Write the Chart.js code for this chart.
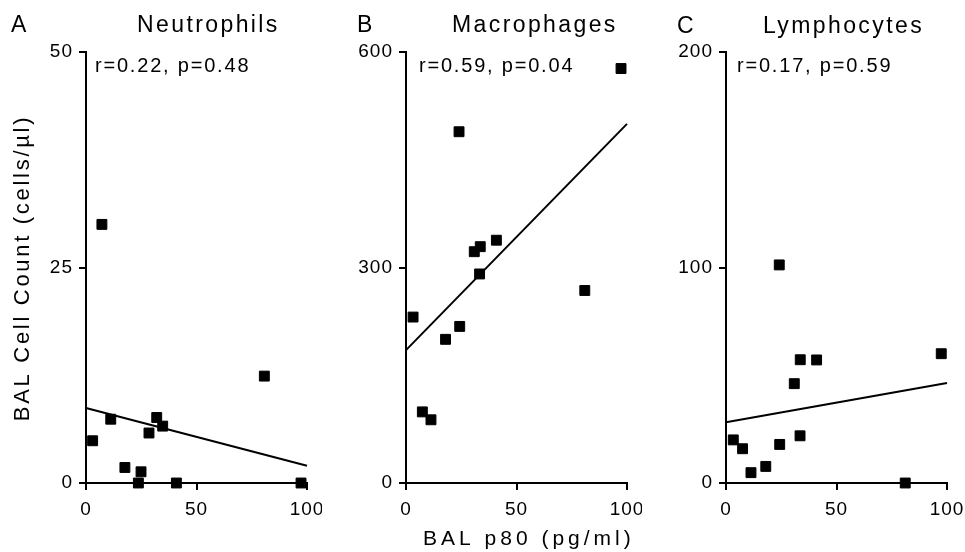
<!DOCTYPE html>
<html>
<head>
<meta charset="utf-8">
<script src="https://cdn.jsdelivr.net/npm/chart.js@4.4.1/dist/chart.umd.min.js"></script>
<style>
  html, body { margin: 0; padding: 0; background: #fff; }
  #wrap { position: relative; width: 965px; height: 552px; }
  canvas { position: absolute; top: 0; }
</style>
</head>
<body>
<div id="wrap">
  <canvas id="chartA" width="322" height="552" style="left:0px"></canvas>
  <canvas id="chartB" width="320" height="552" style="left:322px"></canvas>
  <canvas id="chartC" width="323" height="552" style="left:642px"></canvas>
</div>
<script>
// Data: BAL p80 (pg/ml) against cell counts
const xTicks = [0, 50, 100];
const fitX = [0, 100];

// A - neutrophils
const neutroX = [3.0, 7.2, 11.2, 17.6, 23.7, 24.9, 28.5, 32.0, 34.7, 40.9, 80.7, 97.3];
const neutroY = [4.9, 30.0, 7.4, 1.8, 0.0, 1.3, 5.8, 7.6, 6.6, 0.0, 12.4, 0.0];
const neutroFit = [8.7, 2.0];
const neutroTicks = [0, 25, 50];

// B - macrophages
const macroX = [3.2, 7.4, 11.3, 17.9, 24.0, 24.3, 30.9, 33.3, 33.6, 40.9, 80.9, 97.3];
const macroY = [231, 99, 88, 200, 489, 218, 322, 291, 329, 338, 268, 577];
const macroFit = [185, 500];
const macroTicks = [0, 300, 600];

// C - lymphocytes
const lymphoX = [3.3, 7.5, 11.3, 18.0, 24.1, 24.3, 30.9, 33.5, 33.6, 41.0, 81.1, 97.4];
const lymphoY = [20.0, 15.9, 4.8, 7.7, 101.2, 17.9, 46.1, 21.9, 57.2, 57.1, 0.0, 60.0];
const lymphoFit = [28.2, 46.4];
const lymphoTicks = [0, 100, 200];

const FONT = '"Liberation Sans", Arial, Helvetica, sans-serif';

// the figure's type is widely tracked, so text gets some letter spacing
const panelText = {
  id: 'panelText',
  beforeDraw(chart) {
    chart.ctx.letterSpacing = '1px';
  },
  afterDraw(chart, args, opts) {
    const ctx = chart.ctx;
    opts.items.forEach(t => {
      ctx.save();
      ctx.font = t.size + 'px ' + FONT;
      ctx.letterSpacing = t.spacing + 'px';
      ctx.fillStyle = '#000';
      ctx.textAlign = t.align || 'left';
      ctx.textBaseline = 'alphabetic';
      ctx.translate(t.x - opts.offsetX, t.y);
      if (t.rotate) ctx.rotate(t.rotate);
      ctx.fillText(t.text, 0, 0);
      ctx.restore();
    });
  }
};

function toPoints(xs, ys) {
  return xs.map((x, i) => ({ x: x, y: ys[i] }));
}

// keep the plot box fixed: no extra room for overhanging tick labels
function noOverhang(s) {
  s.paddingLeft = 0;
  s.paddingRight = 0;
  s.paddingTop = 0;
  s.paddingBottom = 0;
}

function makeChart(id, xs, ys, fit, yTicks, padRight, yWidth, offsetX, items) {
  const ctx = document.getElementById(id).getContext('2d');
  return new Chart(ctx, {
    type: 'scatter',
    data: {
      datasets: [{
        data: toPoints(xs, ys),
        pointStyle: 'rect',
        pointRadius: 7,
        backgroundColor: '#000',
        borderColor: '#000',
        borderWidth: 1,
        clip: false
      }, {
        type: 'line',
        data: toPoints(fitX, fit),
        borderColor: '#000',
        borderWidth: 2,
        pointRadius: 0,
        fill: false,
        clip: false
      }]
    },
    options: {
      responsive: false,
      animation: false,
      layout: { padding: { top: 52, right: padRight, left: 0, bottom: 0 } },
      plugins: {
        legend: { display: false },
        tooltip: { enabled: false },
        panelText: { offsetX: offsetX, items: items }
      },
      scales: {
        x: {
          type: 'linear',
          min: 0, max: 100,
          afterBuildTicks: s => { s.ticks = xTicks.map(v => ({ value: v })); },
          afterFit: s => { s.height = 69; noOverhang(s); },
          ticks: { color: '#000', font: { family: FONT, size: 19 }, padding: 8, maxRotation: 0 },
          grid: { drawOnChartArea: false, tickLength: 7, color: '#000', lineWidth: 2 },
          border: { display: true, color: '#000', width: 2 }
        },
        y: {
          type: 'linear',
          min: yTicks[0], max: yTicks[yTicks.length - 1],
          afterBuildTicks: s => { s.ticks = yTicks.map(v => ({ value: v })); },
          afterFit: s => { s.width = yWidth; noOverhang(s); },
          ticks: { color: '#000', font: { family: FONT, size: 19 }, padding: 6 },
          grid: { drawOnChartArea: false, tickLength: 7, color: '#000', lineWidth: 2 },
          border: { display: true, color: '#000', width: 2 }
        }
      }
    },
    plugins: [panelText]
  });
}

makeChart('chartA', neutroX, neutroY, neutroFit, neutroTicks, 15, 86, 0, [
  { text: 'A', x: 11, y: 32, size: 23, spacing: 0 },
  { text: 'Neutrophils', x: 137, y: 32, size: 23, spacing: 2.4 },
  { text: 'r=0.22, p=0.48', x: 95, y: 72, size: 20, spacing: 1.8 },
  { text: 'BAL Cell Count (cells/\u00b5l)', x: 29, y: 268, size: 22, spacing: 2.7, align: 'center', rotate: -Math.PI / 2 }
]);

makeChart('chartB', macroX, macroY, macroFit, macroTicks, 15, 84, 322, [
  { text: 'B', x: 357, y: 32, size: 23, spacing: 0 },
  { text: 'Macrophages', x: 452, y: 32, size: 23, spacing: 2.4 },
  { text: 'r=0.59, p=0.04', x: 419, y: 72, size: 20, spacing: 1.8 },
  { text: 'BAL p80 (pg/ml)', x: 423, y: 545, size: 21, spacing: 4 }
]);

makeChart('chartC', lymphoX, lymphoY, lymphoFit, lymphoTicks, 18, 84, 642, [
  { text: 'C', x: 677, y: 33, size: 23, spacing: 0 },
  { text: 'Lymphocytes', x: 763, y: 33, size: 23, spacing: 2.4 },
  { text: 'r=0.17, p=0.59', x: 737, y: 72, size: 20, spacing: 1.8 }
]);
</script>
</body>
</html>
